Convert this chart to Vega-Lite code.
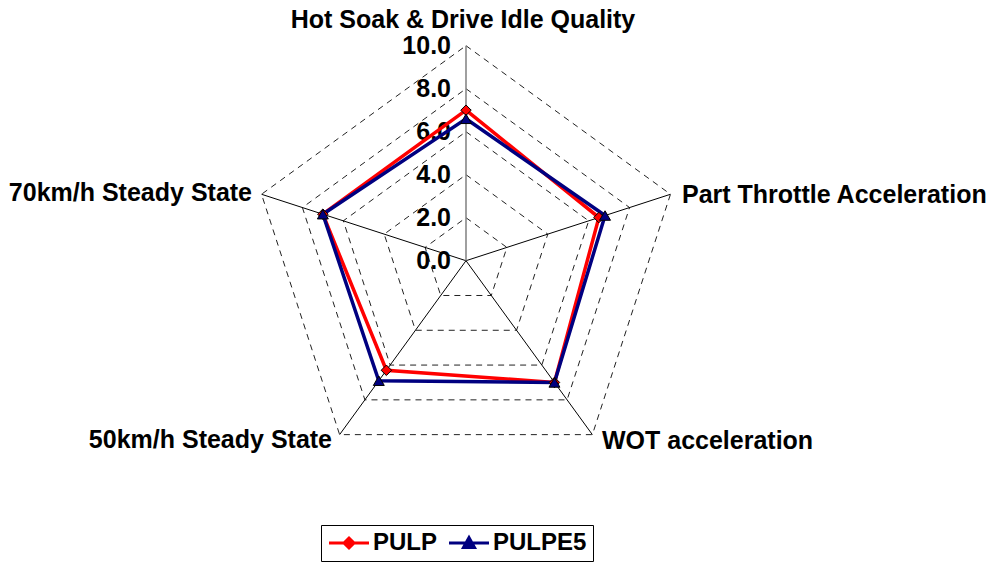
{
  "$schema": "https://vega.github.io/schema/vega-lite/v6.json",
  "width": 992,
  "height": 562,
  "autosize": {"type": "none"},
  "padding": 0,
  "background": "white",
  "config": {"view": {"stroke": null}, "font": "Liberation Sans"},
  "datasets": {
    "axes": [
      {"k": 0, "category": "Hot Soak & Drive Idle Quality"},
      {"k": 1, "category": "Part Throttle Acceleration"},
      {"k": 2, "category": "WOT acceleration"},
      {"k": 3, "category": "50km/h Steady State"},
      {"k": 4, "category": "70km/h Steady State"}
    ],
    "grid": [
      {"level": 2, "k": [0, 1, 2, 3, 4]},
      {"level": 4, "k": [0, 1, 2, 3, 4]},
      {"level": 6, "k": [0, 1, 2, 3, 4]},
      {"level": 8, "k": [0, 1, 2, 3, 4]},
      {"level": 10, "k": [0, 1, 2, 3, 4]}
    ],
    "levels": [
      {"level": 0}, {"level": 2}, {"level": 4}, {"level": 6}, {"level": 8}, {"level": 10}
    ],
    "scores": [
      {"series": "PULP", "k": 0, "category": "Hot Soak & Drive Idle Quality", "value": 7.0},
      {"series": "PULP", "k": 1, "category": "Part Throttle Acceleration", "value": 6.5},
      {"series": "PULP", "k": 2, "category": "WOT acceleration", "value": 7.0},
      {"series": "PULP", "k": 3, "category": "50km/h Steady State", "value": 6.3},
      {"series": "PULP", "k": 4, "category": "70km/h Steady State", "value": 7.0},
      {"series": "PULPE5", "k": 0, "category": "Hot Soak & Drive Idle Quality", "value": 6.6},
      {"series": "PULPE5", "k": 1, "category": "Part Throttle Acceleration", "value": 6.8},
      {"series": "PULPE5", "k": 2, "category": "WOT acceleration", "value": 7.0},
      {"series": "PULPE5", "k": 3, "category": "50km/h Steady State", "value": 6.9},
      {"series": "PULPE5", "k": 4, "category": "70km/h Steady State", "value": 7.0}
    ]
  },
  "encoding": {
    "x": {"field": "px", "type": "quantitative", "scale": {"domain": [-21.674, 24.465], "nice": false, "zero": false}, "axis": null},
    "y": {"field": "py", "type": "quantitative", "scale": {"domain": [-14.014, 12.126], "nice": false, "zero": false}, "axis": null}
  },
  "layer": [
    {
      "data": {"name": "grid"},
      "transform": [
        {"flatten": ["k"]},
        {"calculate": "PI/2 - datum.k*2*PI/5", "as": "ang"},
        {"calculate": "datum.level*cos(datum.ang)", "as": "px"},
        {"calculate": "datum.level*sin(datum.ang)", "as": "py"}
      ],
      "mark": {"type": "line", "interpolate": "linear-closed", "color": "#222222", "strokeWidth": 1, "strokeDash": [6, 5]},
      "encoding": {"detail": {"field": "level"}, "order": {"field": "k", "type": "quantitative"}}
    },
    {
      "data": {"name": "axes"},
      "transform": [
        {"filter": "datum.k > 0"},
        {"calculate": "PI/2 - datum.k*2*PI/5", "as": "ang"},
        {"calculate": "10*cos(datum.ang)", "as": "px"},
        {"calculate": "10*sin(datum.ang)", "as": "py"}
      ],
      "mark": {"type": "rule", "color": "black", "strokeWidth": 1},
      "encoding": {"x2": {"datum": 0}, "y2": {"datum": 0}}
    },
    {
      "data": {"name": "axes"},
      "transform": [
        {"filter": "datum.k == 0"},
        {"calculate": "PI/2 - datum.k*2*PI/5", "as": "ang"},
        {"calculate": "10*cos(datum.ang)", "as": "px"},
        {"calculate": "10*sin(datum.ang)", "as": "py"}
      ],
      "mark": {"type": "rule", "color": "#808080", "strokeWidth": 1.5},
      "encoding": {"x2": {"datum": 0}, "y2": {"datum": 0}}
    },
    {
      "data": {"name": "levels"},
      "transform": [
        {"calculate": "0", "as": "px"},
        {"calculate": "datum.level", "as": "py"}
      ],
      "mark": {"type": "text", "align": "right", "baseline": "middle", "dx": -15, "fontSize": 25, "fontWeight": "bold", "color": "black"},
      "encoding": {"text": {"field": "level", "type": "quantitative", "format": ".1f"}}
    },
    {
      "data": {"name": "axes"},
      "transform": [
        {"filter": "datum.k == 0"},
        {"calculate": "PI/2 - datum.k*2*PI/5", "as": "ang"},
        {"calculate": "10*cos(datum.ang)", "as": "px"},
        {"calculate": "10*sin(datum.ang)", "as": "py"}
      ],
      "mark": {"type": "text", "align": "center", "baseline": "alphabetic", "dx": -3, "dy": -18, "fontSize": 25, "fontWeight": "bold", "color": "black"},
      "encoding": {"text": {"field": "category"}}
    },
    {
      "data": {"name": "axes"},
      "transform": [
        {"filter": "datum.k == 1"},
        {"calculate": "PI/2 - datum.k*2*PI/5", "as": "ang"},
        {"calculate": "10*cos(datum.ang)", "as": "px"},
        {"calculate": "10*sin(datum.ang)", "as": "py"}
      ],
      "mark": {"type": "text", "align": "left", "baseline": "alphabetic", "dx": 11.5, "dy": 8.7, "fontSize": 25, "fontWeight": "bold", "color": "black"},
      "encoding": {"text": {"field": "category"}}
    },
    {
      "data": {"name": "axes"},
      "transform": [
        {"filter": "datum.k == 2"},
        {"calculate": "PI/2 - datum.k*2*PI/5", "as": "ang"},
        {"calculate": "10*cos(datum.ang)", "as": "px"},
        {"calculate": "10*sin(datum.ang)", "as": "py"}
      ],
      "mark": {"type": "text", "align": "left", "baseline": "alphabetic", "dx": 9.6, "dy": 14.4, "fontSize": 25, "fontWeight": "bold", "color": "black"},
      "encoding": {"text": {"field": "category"}}
    },
    {
      "data": {"name": "axes"},
      "transform": [
        {"filter": "datum.k == 3"},
        {"calculate": "PI/2 - datum.k*2*PI/5", "as": "ang"},
        {"calculate": "10*cos(datum.ang)", "as": "px"},
        {"calculate": "10*sin(datum.ang)", "as": "py"}
      ],
      "mark": {"type": "text", "align": "right", "baseline": "alphabetic", "dx": -7.6, "dy": 13.4, "fontSize": 25, "fontWeight": "bold", "color": "black"},
      "encoding": {"text": {"field": "category"}}
    },
    {
      "data": {"name": "axes"},
      "transform": [
        {"filter": "datum.k == 4"},
        {"calculate": "PI/2 - datum.k*2*PI/5", "as": "ang"},
        {"calculate": "10*cos(datum.ang)", "as": "px"},
        {"calculate": "10*sin(datum.ang)", "as": "py"}
      ],
      "mark": {"type": "text", "align": "right", "baseline": "alphabetic", "dx": -9.5, "dy": 6.7, "fontSize": 25, "fontWeight": "bold", "color": "black"},
      "encoding": {"text": {"field": "category"}}
    },
    {
      "data": {"name": "scores"},
      "transform": [
        {"calculate": "PI/2 - datum.k*2*PI/5", "as": "ang"},
        {"calculate": "datum.value*cos(datum.ang)", "as": "px"},
        {"calculate": "datum.value*sin(datum.ang)", "as": "py"}
      ],
      "mark": {"type": "line", "interpolate": "linear-closed", "strokeWidth": 3.5},
      "encoding": {
        "color": {
          "field": "series", "type": "nominal",
          "scale": {"domain": ["PULP", "PULPE5"], "range": ["#FF0000", "#000080"]},
          "legend": {
            "orient": "none", "legendX": 321, "legendY": 525, "direction": "horizontal", "title": null,
            "strokeColor": "black", "padding": 6,
            "labelFont": "Liberation Sans", "labelFontSize": 24, "labelFontWeight": "bold", "labelColor": "black",
            "symbolType": "M-2,0L2,0M-0.5,0L0,-0.5L0.5,0L0,0.5Z",
            "symbolSize": 400, "symbolOffset": 10, "labelOffset": 12, "columnPadding": 5,
            "symbolStrokeWidth": 3,
            "encode": {
              "symbols": {
                "update": {
                  "shape": {"signal": "datum.value === 'PULP' ? 'M-2,0L2,0M-0.5,0L0,-0.5L0.5,0L0,0.5Z' : 'M-2,0L2,0M-0.55,0.45L0,-0.55L0.55,0.45Z'"},
                  "fill": {"signal": "datum.value === 'PULP' ? '#FF0000' : '#000080'"},
                  "stroke": {"signal": "datum.value === 'PULP' ? '#FF0000' : '#000080'"},
                  "strokeWidth": {"value": 3},
                  "opacity": {"value": 1},
                  "fillOpacity": {"value": 1}
                }
              }
            }
          }
        },
        "detail": {"field": "series"},
        "order": {"field": "k", "type": "quantitative"}
      }
    },
    {
      "data": {"name": "scores"},
      "transform": [
        {"filter": "datum.series == 'PULP'"},
        {"calculate": "PI/2 - datum.k*2*PI/5", "as": "ang"},
        {"calculate": "datum.value*cos(datum.ang)", "as": "px"},
        {"calculate": "datum.value*sin(datum.ang)", "as": "py"}
      ],
      "mark": {"type": "point", "shape": "diamond", "filled": true, "fill": "#FF0000", "stroke": "black", "strokeWidth": 1, "opacity": 1, "size": 110}
    },
    {
      "data": {"name": "scores"},
      "transform": [
        {"filter": "datum.series == 'PULPE5'"},
        {"calculate": "PI/2 - datum.k*2*PI/5", "as": "ang"},
        {"calculate": "datum.value*cos(datum.ang)", "as": "px"},
        {"calculate": "datum.value*sin(datum.ang)", "as": "py"}
      ],
      "mark": {"type": "point", "shape": "triangle-up", "filled": true, "fill": "#000080", "stroke": "black", "strokeWidth": 1, "opacity": 1, "size": 120}
    }
  ]
}
